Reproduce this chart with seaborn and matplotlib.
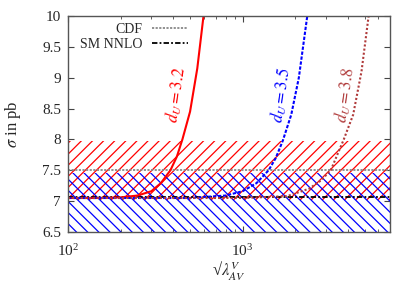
import matplotlib
matplotlib.use("Agg")
import matplotlib.pyplot as plt
import seaborn as sns
import pandas as pd

# values
lam_32 = [100, 150, 200, 250, 300, 340, 386, 420, 452, 500, 550, 600]
sig_32 = [7.05, 7.05, 7.06, 7.09, 7.16, 7.29, 7.5, 7.72, 8.0, 8.45, 9.15, 10.05]

lam_35 = [100, 500, 800, 1000, 1200, 1410, 1550, 1700, 1900, 2100, 2360]
sig_35 = [7.05, 7.05, 7.09, 7.16, 7.29, 7.5, 7.7, 7.98, 8.4, 9.0, 10.05]

lam_38 = [100, 1000, 1800, 2400, 2800, 3200, 3800, 4300, 4800, 5300]
sig_38 = [7.05, 7.05, 7.08, 7.2, 7.33, 7.5, 8.0, 8.4, 9.1, 10.05]

cdf_val = 7.5
sm_nnlo = 7.07
red_band = (7.02, 7.98)
blue_band = (6.4, 7.45)
x_range = (100, 7000)

sns.set_style("ticks")
plt.rcParams["font.family"] = ["Liberation Serif", "DejaVu Serif"]
plt.rcParams["mathtext.fontset"] = "stix"
plt.rcParams["hatch.linewidth"] = 0.9
plt.rcParams["xtick.direction"] = "in"
plt.rcParams["ytick.direction"] = "in"

fig = plt.figure(figsize=(4.15, 2.91), dpi=100)
ax = fig.add_axes([0.164, 0.203, 0.776, 0.742])

ax.fill_between(x_range, red_band[0], red_band[1], facecolor="none",
                edgecolor="#ff0000", hatch="///", linewidth=0)
ax.fill_between(x_range, blue_band[0], blue_band[1], facecolor="none",
                edgecolor="#0000ff", hatch="\\\\\\", linewidth=0)

ax.axhline(cdf_val, color="#888888", ls=(0, (1.2, 0.8)), lw=1.3, label="CDF")
ax.axhline(sm_nnlo, color="black", ls=(0, (3, 1.2, 1, 1.2)), lw=1.3, label="SM NNLO")

df = pd.concat([
    pd.DataFrame({"lam": lam_32, "sig": sig_32, "d": "3.2"}),
    pd.DataFrame({"lam": lam_35, "sig": sig_35, "d": "3.5"}),
    pd.DataFrame({"lam": lam_38, "sig": sig_38, "d": "3.8"}),
])
styles = {"3.2": ("#ff0000", "-"), "3.5": ("#0000ff", (0, (1.6, 0.8))),
          "3.8": ("#b03a3a", (0, (1, 1)))}
for d, sub in df.groupby("d"):
    c, ls = styles[d]
    sns.lineplot(data=sub, x="lam", y="sig", ax=ax, color=c, linestyle=ls,
                 lw=1.5, legend=False, sort=False)

ax.text(418, 8.72, r"$d_U = 3.2$", color="#ff0000", rotation=82,
        ha="center", va="center", fontsize=12)
ax.text(1675, 8.72, r"$d_U = 3.5$", color="#0000ff", rotation=82,
        ha="center", va="center", fontsize=12)
ax.text(3855, 8.72, r"$d_U = 3.8$", color="#b03a3a", rotation=82,
        ha="center", va="center", fontsize=12)

ax.set_xscale("log")
ax.set_xlim(*x_range)
ax.set_ylim(6.5, 10)
ax.set_yticks([6.5, 7, 7.5, 8, 8.5, 9, 9.5, 10])
ax.set_yticklabels(["6.5", "7", "7.5", "8", "8.5", "9", "9.5", "10"])
ax.tick_params(which="both", top=True, right=True, labelsize=11, color="#444444")
ax.tick_params(which="major", length=4, pad=5)
ax.tick_params(axis="x", which="major", pad=8)
ax.tick_params(which="minor", length=2.5)
for s in ax.spines.values():
    s.set_color("#555555")
    s.set_linewidth(1.0)

ax.set_xlabel("√" + r"$\lambda_{AV}^{V}$", fontsize=12, labelpad=0)
ax.set_ylabel(r"$\sigma$ in pb", fontsize=12, labelpad=14)

leg = ax.legend(loc="upper left", bbox_to_anchor=(0.015, 1.0), frameon=False,
                markerfirst=False, fontsize=10, handlelength=2.6,
                handletextpad=0.7, labelspacing=0.15, borderaxespad=0.1)
for t in leg.get_texts():
    t.set_ha("right")

sns.despine(ax=ax, top=False, right=False)
fig.savefig("out.png", dpi=100)
